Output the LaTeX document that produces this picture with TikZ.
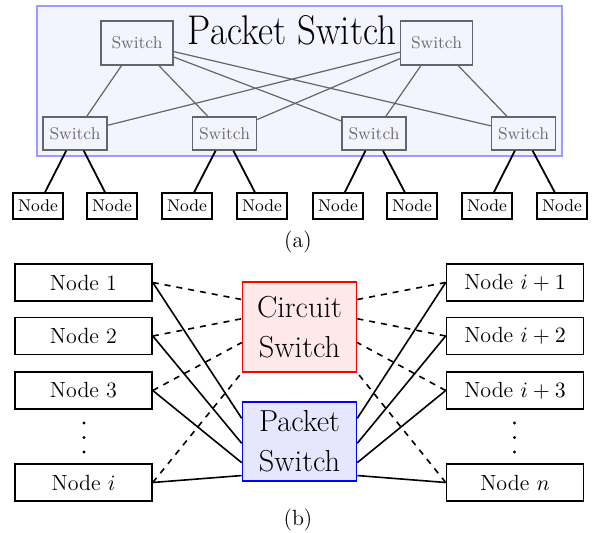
\documentclass[tikz,border=0pt]{standalone}
\usetikzlibrary{calc}
\definecolor{psfill}{HTML}{F4F4FF}
\definecolor{psborder}{HTML}{9C9CFF}
\definecolor{swgray}{HTML}{64646E}
\definecolor{swtext}{HTML}{6E6E6E}
\definecolor{csfill}{HTML}{FFE8E8}
\definecolor{pkfill}{HTML}{E6E6FF}
\begin{document}
\begin{tikzpicture}[x=0.5pt,y=-0.5pt,
  sw/.style={draw=swgray, line width=0.7pt, fill=psfill, text=swtext, font=\fontsize{8.5}{10}\selectfont, minimum width=36pt, minimum height=22pt, inner sep=0pt},
  bsw/.style={sw, minimum width=32pt, minimum height=16.5pt},
  leaf/.style={draw=black, line width=0.7pt, fill=white, font=\fontsize{8.5}{10}\selectfont, minimum width=25pt, minimum height=13pt, inner sep=0pt},
  gline/.style={draw=swgray, line width=0.6pt},
  bline/.style={draw=black, line width=0.9pt},
  big/.style={draw=black, line width=0.8pt, fill=white, font=\fontsize{11}{13}\selectfont, minimum width=68.5pt, minimum height=18.5pt, inner sep=0pt},
  sline/.style={draw=black, line width=0.8pt},
  dline/.style={draw=black, line width=0.8pt, dashed},
  swbig/.style={line width=0.8pt, align=center, font=\fontsize{15.2}{20}\selectfont, minimum width=57pt, inner sep=0pt},
  lbl/.style={font=\fontsize{11}{13}\selectfont, inner sep=0pt}
]
\useasboundingbox (0,0) rectangle (596,533);
% ---------- (a) ----------
\node[draw=psborder, fill=psfill, line width=1pt, minimum width=262.5pt, minimum height=75pt, inner sep=0pt] (psbox) at (299.5,81.5) {};
\node[font=\huge, anchor=base, inner sep=0pt] (title) at (292,45) {\scalebox{0.89}[1]{Packet Switch}};
\node[sw] (ts1) at (137,43) {Switch};
\node[sw] (ts2) at (436.5,43) {Switch};
\node[bsw] (bs1) at (75,133.5) {Switch};
\node[bsw] (bs2) at (224.5,133.5) {Switch};
\node[bsw] (bs3) at (374,133.5) {Switch};
\node[bsw] (bs4) at (523.5,133.5) {Switch};
\foreach \t in {ts1,ts2}{
  \foreach \b in {bs1,bs2,bs3,bs4}{
    \draw[gline] (\t) -- (\b);
  }
}
\node[leaf] (n1) at (38,206) {Node};
\node[leaf] (n2) at (112,206) {Node};
\node[leaf] (n3) at (187,206) {Node};
\node[leaf] (n4) at (262,206) {Node};
\node[leaf] (n5) at (338,206) {Node};
\node[leaf] (n6) at (412,206) {Node};
\node[leaf] (n7) at (487,206) {Node};
\node[leaf] (n8) at (562,206) {Node};
\draw[bline] (bs1) -- (n1);
\draw[bline] (bs1) -- (n2);
\draw[bline] (bs2) -- (n3);
\draw[bline] (bs2) -- (n4);
\draw[bline] (bs3) -- (n5);
\draw[bline] (bs3) -- (n6);
\draw[bline] (bs4) -- (n7);
\draw[bline] (bs4) -- (n8);
\node[lbl] (la) at (298,242) {(a)};
% ---------- (b) ----------
\node[big] (l1) at (83.5,282.5) {Node 1};
\node[big] (l2) at (83.5,336) {Node 2};
\node[big] (l3) at (83.5,390.5) {Node 3};
\node[big] (li) at (83.5,482.5) {Node $i$};
\node[big] (r1) at (515,282.5) {Node $i+1$};
\node[big] (r2) at (515,336) {Node $i+2$};
\node[big] (r3) at (515,390.5) {Node $i+3$};
\node[big] (rn) at (515,482.5) {Node $n$};
\foreach \yy in {423,437.5,452}{
  \fill (84,\yy) circle (0.85pt);
  \fill (514.5,\yy) circle (0.85pt);
}
\node[swbig, draw=red, fill=csfill, minimum height=45pt] (cs) at (299.5,327) {Circuit\\Switch};
\node[swbig, draw=blue, fill=pkfill, minimum height=39.5pt] (pk) at (299.5,441.7) {Packet\\Switch};
% anchor points on the switch boxes
\foreach \f/\n in {0.2/1,0.41/2,0.67/3,1/4}{
  \coordinate (cw\n) at ($(cs.north west)!\f!(cs.south west)$);
  \coordinate (ce\n) at ($(cs.north east)!\f!(cs.south east)$);
}
\foreach \f/\n in {0.21/1,0.52/2,0.76/3,0.92/4}{
  \coordinate (pw\n) at ($(pk.north west)!\f!(pk.south west)$);
  \coordinate (pe\n) at ($(pk.north east)!\f!(pk.south east)$);
}
\draw[dline] (l1.east) -- (cw1);
\draw[dline] (l2.east) -- (cw2);
\draw[dline] (l3.east) -- (cw3);
\draw[dline] (li.east) -- (cw4);
\draw[dline] (r1.west) -- (ce1);
\draw[dline] (r2.west) -- (ce2);
\draw[dline] (r3.west) -- (ce3);
\draw[dline] (rn.west) -- (ce4);
\draw[sline] (l1.east) -- (pw1);
\draw[sline] (l2.east) -- (pw2);
\draw[sline] (l3.east) -- (pw3);
\draw[sline] (li.east) -- (pw4);
\draw[sline] (r1.west) -- (pe1);
\draw[sline] (r2.west) -- (pe2);
\draw[sline] (r3.west) -- (pe3);
\draw[sline] (rn.west) -- (pe4);
\node[lbl] (lb) at (298,520) {(b)};
\end{tikzpicture}
\end{document}
